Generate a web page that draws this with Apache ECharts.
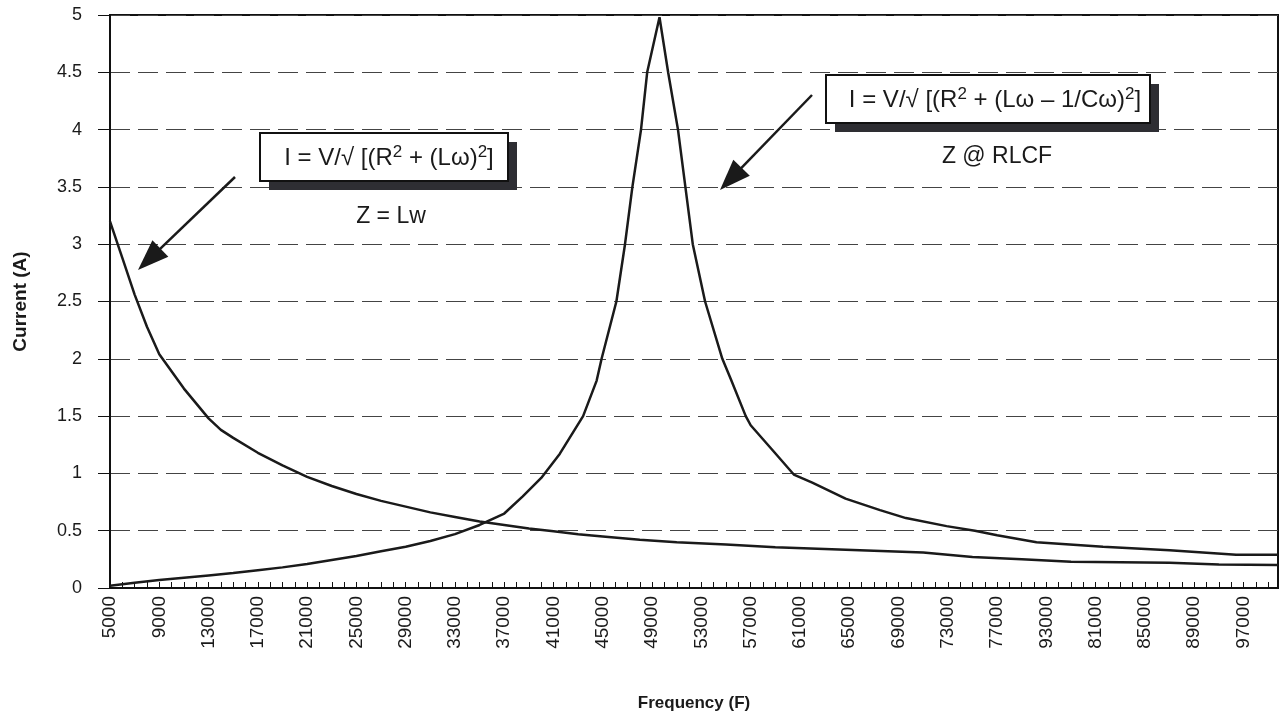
<!DOCTYPE html>
<html>
<head>
<meta charset="utf-8">
<script src="https://cdn.jsdelivr.net/npm/echarts@6/dist/echarts.min.js"></script>
<style>
html,body{margin:0;padding:0;background:#fff;}
#chart{width:1283px;height:717px;}
</style>
</head>
<body>
<div id="chart"></div>
<script>
// Tick labels as printed on the original frequency axis (one every 4000 Hz step)
const tickLabels = ['5000','9000','13000','17000','21000','25000','29000','33000','37000','41000','45000','49000','53000','57000','61000','65000','69000','73000','77000','93000','81000','85000','89000','97000'];

// Series 1: Z = Lw  (inductive circuit)
const inductiveFreq = [5000,6000,7000,8000,9000,11000,13000,14000,15000,17000,19000,21000,23000,25000,27000,29000,31000,33000,35000,37000,39000,41000,43000,45000,48000,51000,55000,59000,63000,67000,71000,75000,79000,83000,87000,91000,95000,99800];
const inductiveCurrent = [3.20,2.88,2.56,2.28,2.04,1.74,1.48,1.38,1.31,1.18,1.07,0.97,0.89,0.82,0.76,0.71,0.66,0.62,0.58,0.55,0.52,0.495,0.47,0.45,0.42,0.40,0.38,0.355,0.34,0.325,0.31,0.27,0.25,0.23,0.225,0.22,0.205,0.20];

// Series 2: Z @ RLCF (series resonant circuit)
const resonantFreq = [5000,7000,9000,11000,13000,15000,17000,19000,21000,23000,25000,27000,29000,31000,33000,35000,37000,38500,40000,41500,43400,44500,44900,46100,46800,47400,48100,48600,49600,50300,51100,51700,52300,53300,54700,55400,56600,57000,58800,60500,62000,64700,67500,69600,72900,75200,77000,80200,85600,91000,96400,99800];
const resonantCurrent = [0.02,0.045,0.07,0.09,0.11,0.13,0.155,0.18,0.21,0.245,0.28,0.32,0.36,0.41,0.47,0.55,0.65,0.80,0.96,1.17,1.50,1.81,2.0,2.5,3.0,3.5,4.0,4.5,4.98,4.5,4.0,3.5,3.0,2.5,2.0,1.82,1.5,1.42,1.2,0.99,0.92,0.78,0.68,0.61,0.54,0.50,0.46,0.40,0.36,0.33,0.29,0.29];

const FONT = '"Liberation Sans", Arial, Helvetica, sans-serif';
const INK = '#1a1a1a';

function pairs(xs, ys){ return xs.map((x,i)=>[x, ys[i]]); }

function arrow(x1,y1,x2,y2){
  const dx=x2-x1, dy=y2-y1, L=Math.sqrt(dx*dx+dy*dy);
  const ux=dx/L, uy=dy/L, hl=31, hw=11.5;
  const bx=x2-ux*hl, by=y2-uy*hl;
  return [
    {type:'line', shape:{x1:x1,y1:y1,x2:bx+ux*4,y2:by+uy*4}, style:{stroke:INK,lineWidth:2.5}, z:100},
    {type:'polygon', shape:{points:[[x2,y2],[bx-uy*hw,by+ux*hw],[bx+uy*hw,by-ux*hw]]}, style:{fill:INK}, z:100}
  ];
}

function box(x,y,w,h,richText,cx){
  return [
    {type:'rect', shape:{x:x+9,y:y+9,width:w,height:h}, style:{fill:'#2e2e33'}, z:100},
    {type:'rect', shape:{x:x,y:y,width:w,height:h}, style:{fill:'#fff',stroke:'#111',lineWidth:2}, z:101},
    {type:'text', x:cx, y:y+h/2+1, z:102, style:{
      text:richText, align:'center', verticalAlign:'middle',
      rich:{
        n:{fontFamily:FONT,fontSize:24,fill:INK,lineHeight:28,verticalAlign:'middle'},
        s:{fontFamily:FONT,fontSize:17,fill:INK,lineHeight:26,verticalAlign:'top'}
      }
    }}
  ];
}

const chart = echarts.init(document.getElementById('chart'), null, {renderer:'canvas'});

const graphics = [].concat(
  box(260,133,248,48,'{n|I = V/√ [(R}{s|2}{n| + (Lω)}{s|2}{n|]}',389),
  box(826,75,324,48,'{n|I = V/√ [(R}{s|2}{n| + (Lω – 1/Cω)}{s|2}{n|]}',995),
  [
    {type:'text', x:391, y:217, z:102, style:{text:'Z = Lw', font:'23px '+FONT, fill:INK, align:'center', verticalAlign:'middle'}},
    {type:'text', x:997, y:157, z:102, style:{text:'Z @ RLCF', font:'23px '+FONT, fill:INK, align:'center', verticalAlign:'middle'}}
  ],
  arrow(235,177,138,270),
  arrow(812,95,720,190)
);

chart.setOption({
  animation:false,
  backgroundColor:'#fff',
  grid:{left:110,right:5,top:15,bottom:129,show:true,borderColor:'#111',borderWidth:2,backgroundColor:'transparent'},
  xAxis:{
    type:'value', min:5000, max:99800, interval:1000,
    name:'Frequency (F)', nameLocation:'middle', nameGap:107,
    nameTextStyle:{fontFamily:FONT,fontWeight:'bold',fontSize:17,color:INK},
    axisLine:{show:true,onZero:false,lineStyle:{color:'#111',width:2}},
    axisTick:{show:true,inside:true,length:6,lineStyle:{color:'#111',width:1}},
    splitLine:{show:false},
    axisLabel:{
      rotate:90, margin:8, fontFamily:FONT, fontSize:19, color:INK,
      showMinLabel:true, showMaxLabel:true,
      formatter:function(v){
        const r=(v-5000)/4000;
        return (Math.abs(r-Math.round(r))<1e-9 && Math.round(r)<tickLabels.length) ? tickLabels[Math.round(r)] : '';
      }
    }
  },
  yAxis:{
    type:'value', min:0, max:5, interval:0.5,
    name:'Current (A)', nameLocation:'middle', nameGap:80,
    nameTextStyle:{fontFamily:FONT,fontWeight:'bold',fontSize:19,color:INK},
    axisLine:{show:true,lineStyle:{color:'#111',width:2}},
    axisTick:{show:true,inside:false,length:12,lineStyle:{color:'#111',width:1}},
    axisLabel:{margin:28,fontFamily:FONT,fontSize:18,color:INK},
    splitLine:{show:true,lineStyle:{color:'#444',width:1.2,type:[20,8]}}
  },
  series:[
    {type:'line', name:'Z = Lw', data:pairs(inductiveFreq,inductiveCurrent), showSymbol:false, smooth:false,
     lineStyle:{color:INK,width:2.5}, z:10},
    {type:'line', name:'Z @ RLCF', data:pairs(resonantFreq,resonantCurrent), showSymbol:false, smooth:false,
     lineStyle:{color:INK,width:2.5}, z:10}
  ],
  graphic:graphics
});
</script>
</body>
</html>
